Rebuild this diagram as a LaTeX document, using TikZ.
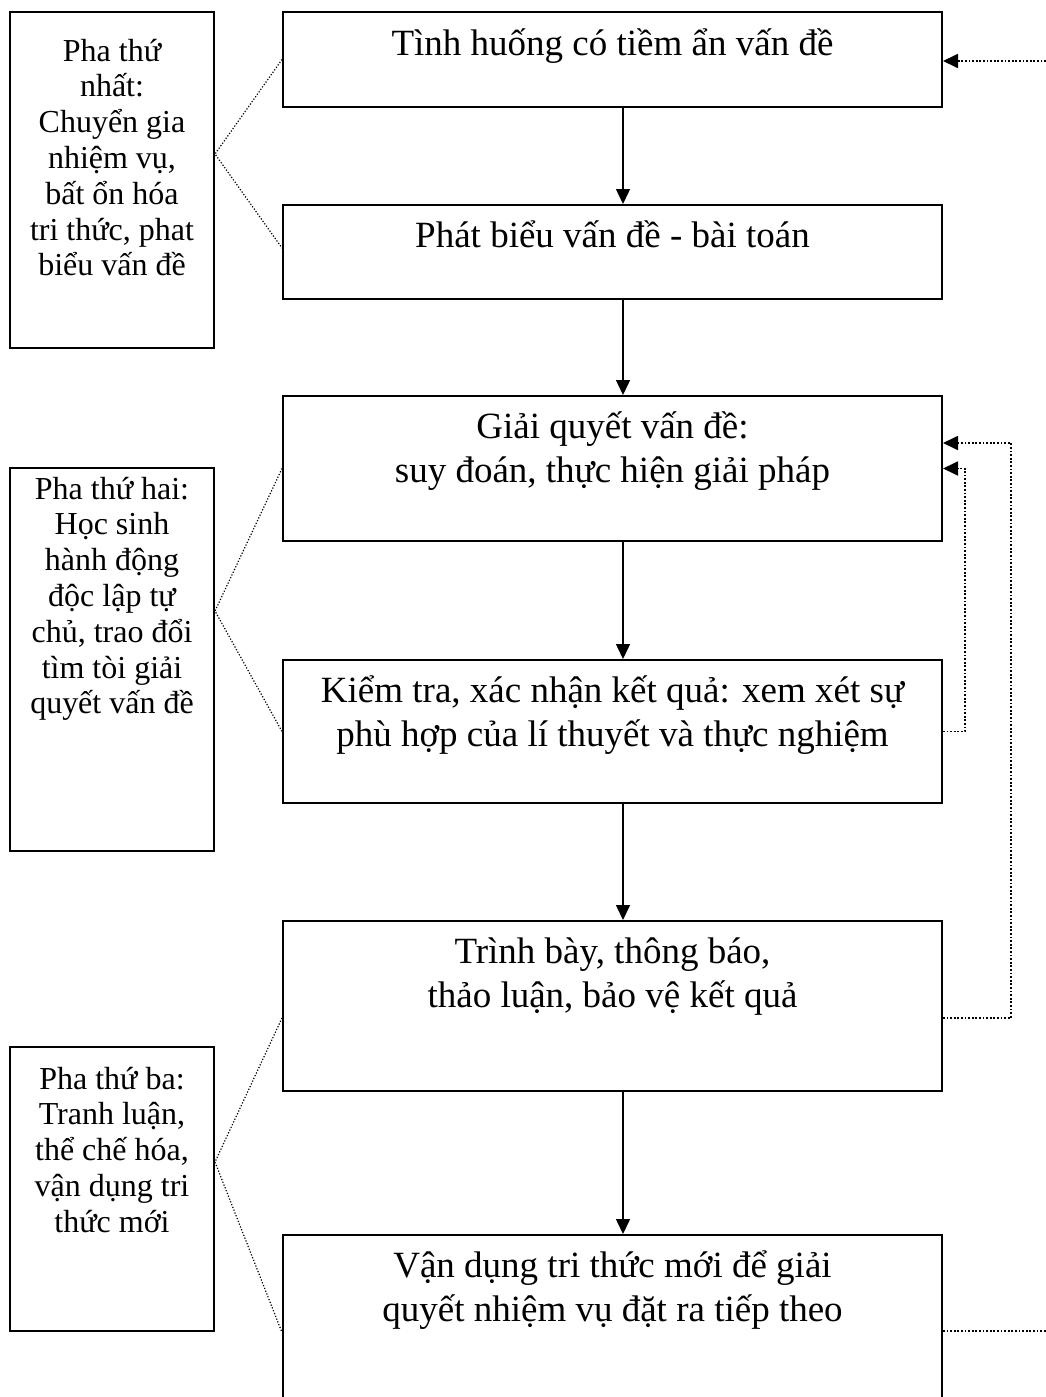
\documentclass[tikz,border=0pt]{standalone}
\usepackage{fontspec}
\setmainfont{Liberation Serif}
\usetikzlibrary{arrows.meta,calc}
\begin{document}
\begin{tikzpicture}[x=1pt,y=-1pt,
 mainbox/.style={draw, line width=2pt, minimum width=659pt, inner sep=0pt},
 sidebox/.style={draw, line width=2pt, minimum width=204pt, inner sep=0pt},
 maintext/.style={anchor=base, align=center, inner sep=0pt, font=\fontsize{37}{44}\selectfont},
 sidetext/.style={anchor=base, align=center, inner sep=0pt, font=\fontsize{32}{35.8}\selectfont},
 flow/.style={line width=1.5pt, -{Triangle[length=15pt,width=14pt]}},
 dotline/.style={line width=1.2pt, dash pattern=on 1.2pt off 1.8pt},
 fbline/.style={line width=1.8pt, dash pattern=on 1.8pt off 1.8pt},
 fb/.style={fbline, -{Triangle[length=15pt,width=14pt]}}]
\clip (0,0) rectangle (1046,1397);
\fill[white] (0,0) rectangle (1046,1397);

% main boxes
\node[mainbox, minimum height=95pt]  (b1) at (612.5,59.5) {};
\node[mainbox, minimum height=94pt]  (b2) at (612.5,252) {};
\node[mainbox, minimum height=145pt] (b3) at (612.5,468.5) {};
\node[mainbox, minimum height=143pt] (b4) at (612.5,731.5) {};
\node[mainbox, minimum height=170pt] (b5) at (612.5,1006) {};
\node[mainbox, minimum height=195pt] (b6) at (612.5,1332.5) {};

% (anchor=base is the baseline of the last line)
\node[maintext] (t1) at (612.5,56) {Tình huống có tiềm ẩn vấn đề};
\node[maintext] (t2) at (612.5,247) {Phát biểu vấn đề - bài toán};
\node[maintext] (t3) at (612.5,482) {Giải quyết vấn đề:\\suy đoán, thực hiện giải pháp};
\node[maintext] (t4) at (612.5,746) {Kiểm tra, xác nhận kết quả: xem xét sự\\phù hợp của lí thuyết và thực nghiệm};
\node[maintext] (t5) at (612.5,1007) {Trình bày, thông báo,\\thảo luận, bảo vệ kết quả};
\node[maintext] (t6) at (612.5,1321) {Vận dụng tri thức mới để giải\\quyết nhiệm vụ đặt ra tiếp theo};

% side boxes
\node[sidebox, minimum height=336pt] (lA) at (112,180) {};
\node[sidebox, minimum height=383pt] (lB) at (112,659.5) {};
\node[sidebox, minimum height=284pt] (lC) at (112,1189) {};

\node[sidetext] (sA) at (112,275.8) {Pha thứ\\nhất:\\Chuyển gia\\nhiệm vụ,\\bất ổn hóa\\tri thức, phat\\biểu vấn đề};
\node[sidetext] (sB) at (112,713.8) {Pha thứ hai:\\Học sinh\\hành động\\độc lập tự\\chủ, trao đổi\\tìm tòi giải\\quyết vấn đề};
\node[sidetext] (sC) at (112,1232.2) {Pha thứ ba:\\Tranh luận,\\thể chế hóa,\\vận dụng tri\\thức mới};

% flow arrows
\coordinate (ax) at (623,0);
\draw[flow] (b1.south -| ax) -- (b2.north -| ax);
\draw[flow] (b2.south -| ax) -- (b3.north -| ax);
\draw[flow] (b3.south -| ax) -- (b4.north -| ax);
\draw[flow] (b4.south -| ax) -- (b5.north -| ax);
\draw[flow] (b5.south -| ax) -- (b6.north -| ax);

% left dotted connectors
\coordinate (pA) at ([yshift=-143pt]lA.north east);
\coordinate (pB) at ([yshift=-144pt]lB.north east);
\coordinate (pC) at ([yshift=-116pt]lC.north east);
\draw[dotline] (b1.west) -- (pA) -- ([yshift=4pt]b2.west);
\draw[dotline] (b3.west) -- (pB) -- (b4.west);
\draw[dotline] ([yshift=-12pt]b5.west) -- (pC) -- (b6.west);

% right feedback connectors
\coordinate (e1) at (1046,61);
\draw[fb] (e1) -- (e1 -| b1.east);
\draw[fb] (b4.east) -- ++(22,0) |- (b3.east);
\draw[fb] ([yshift=-12pt]b5.east) -- ++(68,0) |- ([yshift=25.5pt]b3.east);
\coordinate (e6) at (1046,1331);
\draw[fbline] (b6.east |- e6) -- (e6);
\end{tikzpicture}
\end{document}
